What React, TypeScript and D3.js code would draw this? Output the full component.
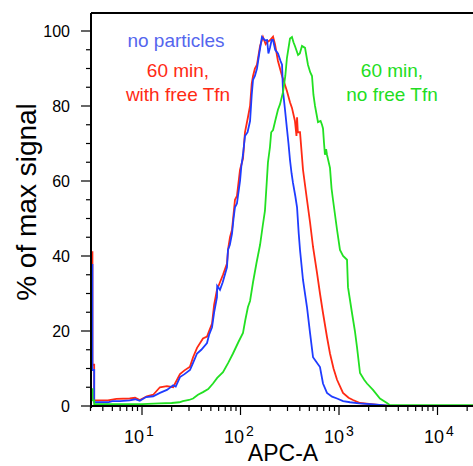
import React from "react";
import * as d3 from "d3";

const yTicks = [0, 20, 40, 60, 80, 100];
const xDecades = [1, 2, 3, 4];

const blueSeries: [number, number][] = [
  [3.02, 0], [3.02, 37.6], [3.14, 37.6], [3.14, 9.6], [3.27, 9.6], [3.27, 1.0], [4.5, 1.0], [5.0, 1.3], [6.0, 1.3],
  [7.5, 1.5], [8.5, 1.8], [9.5, 1.4], [11, 2.4], [13, 2.6], [15.2, 3.5], [17.9, 4.3], [20.7, 5.5], [22, 5.2],
  [24.3, 7.7], [27, 8.5], [30.7, 9.6], [33, 11.5], [36.2, 14], [40, 15], [45.7, 16.8], [48, 19], [51.4, 21],
  [54, 25], [57.7, 29], [58, 32], [61.9, 31], [66, 33], [72.9, 37], [74.6, 41.6], [78, 43], [82, 46], [85, 50],
  [87.9, 53], [92, 54], [98.9, 60], [102, 64], [106, 67], [111, 72], [118, 73], [125, 76], [130, 83], [134, 87],
  [140, 88], [147, 90], [155, 94], [165, 98.4], [177, 97.5], [186, 97.6], [192, 94], [199, 95.5], [207, 97.6],
  [214, 97.6], [225, 95], [240, 94], [255, 92], [264, 91], [270, 84], [283, 79], [296, 74], [307, 70],
  [318, 65.6], [330, 62], [341, 59.5], [360, 56], [375, 53], [390, 46], [402, 41.6], [431, 33.6], [473, 26.4],
  [508, 19.5], [545, 13], [580, 12], [641, 10.4], [688, 6], [755, 3.5], [850, 2.5], [955, 2], [1100, 1.3],
  [1293, 1], [1600, 0.7], [2063, 0.5], [2800, 0.2], [3293, 0], [30000, 0],
];

const redSeries: [number, number][] = [
  [3.02, 0], [3.02, 41], [3.14, 41], [3.14, 11], [3.27, 11], [3.27, 1.5], [4.5, 1.5], [5.5, 1.9], [7.5, 2.0],
  [8.5, 2.2], [9.5, 1.6], [11.2, 2.6], [13, 3.0], [15.2, 5.0], [17.9, 5.3], [20.7, 5.0], [24.3, 8.5], [27, 9.5],
  [30.7, 10.5], [33, 13], [36.2, 15.5], [41.6, 18], [45.7, 18.5], [48, 20], [51.4, 22], [54, 27], [57.7, 31],
  [61.9, 33], [66.4, 35], [72.9, 38], [75, 42], [78.2, 45], [82, 47], [87.9, 55], [92, 56], [98.9, 63],
  [106, 66], [111, 73], [119, 77], [125, 80], [130, 86], [134, 88], [140, 90], [147, 91], [158, 96],
  [169, 98.4], [180, 96.5], [186, 97], [199, 97.5], [214, 98.5], [224, 96.5], [240, 92], [264, 88], [280, 86],
  [296, 84], [318, 81], [333, 79.5], [357, 76], [370, 72], [375, 77], [382, 73], [402, 73], [431, 63],
  [473, 55], [508, 49], [545, 42.4], [598, 35.5], [641, 30], [688, 24.8], [755, 18.4], [810, 14], [880, 10],
  [955, 7], [1098, 3.5], [1250, 2.2], [1387, 1.6], [1634, 0.8], [2500, 0.3], [3300, 0], [30000, 0],
];

const greenSeries: [number, number][] = [
  [3.02, 0], [3.02, 4.5], [3.14, 4.5], [3.14, 1.5], [3.27, 1.5], [3.27, 0.5], [10, 0.5], [15, 0.7], [20, 0.8],
  [24, 1.0], [26, 1.3], [30, 1.6], [33, 2], [37, 3], [41.6, 3.7], [47, 4.5], [52.6, 6], [58, 7.5], [66.4, 9],
  [75, 11.5], [83.9, 14], [95, 17], [106, 19.5], [112, 23], [119, 26.4], [125, 28], [134, 33], [145, 38],
  [158, 43], [168, 48], [177, 52], [185, 60], [190, 65], [199, 69], [205, 73], [214, 73.6], [225, 76],
  [240, 79], [252, 80.5], [270, 83.7], [285, 88], [296, 92.8], [318, 98], [333, 98.4], [345, 97], [357, 96],
  [384, 93.6], [400, 94], [421, 96], [452, 95.5], [484, 91], [510, 89], [532, 88], [550, 83], [571, 80],
  [612, 75.7], [650, 76], [672, 75], [688, 74], [705, 70], [720, 67], [740, 68.5], [755, 67], [810, 63.5],
  [840, 58], [869, 55], [955, 47], [1023, 41.6], [1100, 40], [1206, 39], [1234, 31.7], [1355, 24.8],
  [1450, 20], [1523, 15.7], [1634, 8.8], [1800, 7], [1924, 6], [2213, 4.3], [2605, 2], [3067, 0.8],
  [3293, 0.2], [30000, 0.2],
];

const seriesList = [
  { name: "red", data: redSeries, color: "#ff2a14" },
  { name: "blue", data: blueSeries, color: "#1f3cff" },
  { name: "green", data: greenSeries, color: "#22e022" },
];

const labels = [
  { lines: ["no particles"], x: 176, y: 47, color: "#5566ee" },
  { lines: ["60 min,", "with free Tfn"], x: 178, y: 77, color: "#ff2a14" },
  { lines: ["60 min,", "no free Tfn"], x: 392, y: 77, color: "#22dd22" },
];

const FONT = "'Liberation Sans', Arial, sans-serif";

export default function App() {
  const W = 473, H = 466;
  const left = 91, top = 13, bottom = 406;
  const x = d3.scaleLog().domain([3, 30000]).range([90.5, 484.5]);
  const y = d3.scaleLinear().domain([0, 100]).range([bottom, 31]);
  const line = d3.line<[number, number]>().x((d) => x(d[0])).y((d) => y(d[1]));

  const minorY = d3.range(0, 101, 5).filter((v) => v % 20 !== 0);
  const minorX: number[] = [];
  for (let e = 0; e <= 4; e++) {
    for (let m = 2; m <= 9; m++) {
      const v = m * Math.pow(10, e);
      if (v >= 3 && v <= 25000) minorX.push(v);
    }
  }

  return (
    <svg width={W} height={H} style={{ position: "absolute", left: 0, top: 0, background: "#fff" }} fontFamily={FONT}>
      <rect x={0} y={0} width={W} height={H} fill="#fff" />
      <defs>
        <clipPath id="plot">
          <rect x={left} y={top} width={W - left} height={bottom - top + 1} />
        </clipPath>
      </defs>
      <g clipPath="url(#plot)">
        {seriesList.map((s) => (
          <path key={s.name} d={line(s.data) || ""} fill="none" stroke={s.color} strokeWidth={1.8} strokeLinejoin="miter" />
        ))}
      </g>
      <line x1={left} x2={W + 5} y1={top} y2={top} stroke="#000" strokeWidth={1.8} />
      <line x1={left} x2={left} y1={top} y2={bottom + 2} stroke="#000" strokeWidth={2} />
      <line x1={left} x2={W + 5} y1={bottom} y2={bottom} stroke="#000" strokeWidth={1.8} />
      {yTicks.map((t) => (
        <g key={"y" + t}>
          <line x1={left - 10} x2={left} y1={y(t)} y2={y(t)} stroke="#000" strokeWidth={1.2} />
          <text x={70} y={y(t)} dy="0.36em" textAnchor="end" fontSize={16} fill="#000">{t}</text>
        </g>
      ))}
      {minorY.map((t) => (
        <line key={"my" + t} x1={left - 5} x2={left} y1={y(t)} y2={y(t)} stroke="#000" strokeWidth={1.2} />
      ))}
      {xDecades.map((e) => {
        const px = x(Math.pow(10, e));
        return (
          <g key={"x" + e}>
            <line x1={px} x2={px} y1={bottom} y2={bottom + 9} stroke="#000" strokeWidth={1.2} />
            <text x={px + 2 + 1.5 * (e - 1)} y={443} textAnchor="end" fontSize={18} fill="#000">10</text>
            <text x={px + 4 + 1.5 * (e - 1)} y={436} textAnchor="start" fontSize={14} fill="#000">{e}</text>
          </g>
        );
      })}
      {minorX.map((v) => (
        <line key={"mx" + v} x1={x(v)} x2={x(v)} y1={bottom} y2={bottom + 5} stroke="#000" strokeWidth={1.2} />
      ))}
      <text x={283} y={461} textAnchor="middle" fontSize={23} fill="#000">APC-A</text>
      <text transform="translate(36,202) rotate(-90)" textAnchor="middle" fontSize={28} fill="#000">% of max signal</text>
      {labels.map((l, i) => (
        <text key={i} x={l.x} y={l.y} textAnchor="middle" fontSize={19} fill={l.color}>
          {l.lines.map((ln, j) => (
            <tspan key={j} x={l.x} dy={j === 0 ? 0 : 24}>{ln}</tspan>
          ))}
        </text>
      ))}
    </svg>
  );
}
